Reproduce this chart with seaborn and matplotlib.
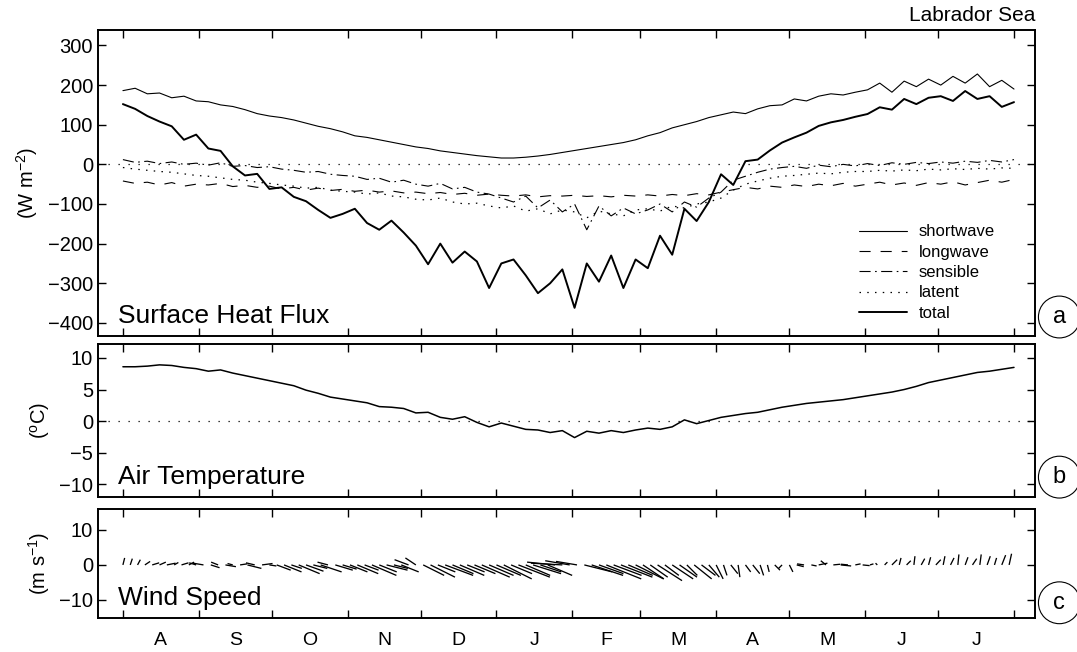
import numpy as np
import pandas as pd
import matplotlib
matplotlib.use("Agg")
import matplotlib.pyplot as plt
import seaborn as sns

# Style
sns.set_style("ticks", rc={"text.color": "k", "axes.labelcolor": "k",
                           "xtick.color": "k", "ytick.color": "k",
                           "axes.edgecolor": "k"})
plt.rcParams["font.family"] = ["Liberation Sans", "DejaVu Sans"]
plt.rcParams["mathtext.default"] = "regular"

# Data (days since 1 August, read every 5 days)
flux_days = np.arange(0, 366, 5)

shortwave = [186, 192, 178, 180, 168, 172, 160,
             158, 150, 146, 138, 128, 122,
             118, 112, 104, 96, 90, 82,
             72, 68, 62, 56, 50, 44,
             40, 34, 30, 26, 22, 19,
             16, 16, 18, 21, 25, 30,
             35, 40, 45, 50, 55, 62,
             72, 80, 92, 100, 108, 118,
             125, 132, 128, 140, 148, 150,
             165, 160, 172, 178, 175, 182,
             188, 205, 182, 210, 196, 215,
             200, 222, 205, 228, 196, 212, 190]

longwave = [-42, -48, -45, -52, -46, -55, -50,
            -52, -48, -56, -53, -58, -55,
            -62, -58, -65, -60, -66, -63,
            -68, -65, -70, -67, -72, -70,
            -74, -71, -76, -73, -78, -75,
            -78, -80, -77, -82, -79, -80,
            -78, -81, -79, -82, -78, -80,
            -77, -80, -76, -79, -74, -77,
            -70, -64, -58, -62, -55, -58,
            -52, -56, -50, -54, -48, -55,
            -50, -45, -52, -47, -53, -46,
            -50, -44, -52, -46, -40, -45, -38]

sensible = [12, 5, 8, 2, 6, 0, 3,
            -2, 4, -5, -3, -8, -6,
            -12, -15, -20, -18, -25, -28,
            -30, -38, -35, -45, -40, -50,
            -55, -48, -62, -58, -70, -75,
            -85, -95, -80, -110, -90, -120,
            -100, -165, -105, -130, -110, -125,
            -115, -100, -120, -95, -108, -85,
            -70, -40, -30, -20, -12, -8,
            -5, -10, -2, -6, 0, -4,
            2, -3, 4, 0, 5, 2,
            6, 3, 8, 5, 10, 6, 12]

latent = [-8, -12, -15, -18, -20, -24, -28,
          -30, -34, -38, -40, -45, -48,
          -52, -55, -60, -58, -65, -68,
          -70, -75, -72, -80, -82, -88,
          -90, -85, -95, -100, -98, -105,
          -110, -105, -118, -112, -125, -115,
          -120, -135, -118, -125, -130, -115,
          -112, -118, -105, -110, -100, -95,
          -85, -65, -50, -42, -35, -30,
          -28, -25, -22, -24, -20, -18,
          -18, -15, -17, -14, -16, -12,
          -14, -11, -13, -10, -12, -9, -10]

total = [152, 140, 122, 108, 96, 62, 75,
         40, 34, -5, -28, -24, -62,
         -58, -82, -93, -115, -135, -125,
         -112, -148, -165, -142, -172, -205,
         -252, -200, -248, -220, -245, -312,
         -250, -240, -280, -325, -300, -265,
         -362, -250, -296, -230, -312, -240,
         -262, -180, -228, -112, -143, -95,
         -25, -52, 8, 12, 35, 55,
         68, 80, 97, 106, 112, 120,
         127, 144, 138, 165, 152, 168,
         172, 160, 185, 165, 172, 145, 157]

air_temp = [8.6, 8.6, 8.7, 8.9, 8.8, 8.5, 8.3,
            7.9, 8.1, 7.6, 7.2, 6.8, 6.4,
            6.0, 5.6, 4.9, 4.4, 3.8, 3.5,
            3.2, 2.9, 2.3, 2.2, 2.0, 1.3,
            1.4, 0.6, 0.3, 0.7, -0.2, -0.9,
            -0.3, -0.8, -1.3, -1.4, -1.8, -1.5,
            -2.6, -1.6, -1.9, -1.5, -1.8, -1.4,
            -1.1, -1.3, -0.9, 0.2, -0.4, 0.1,
            0.6, 0.9, 1.2, 1.4, 1.8, 2.2,
            2.5, 2.8, 3.0, 3.2, 3.4, 3.7,
            4.0, 4.3, 4.6, 5.0, 5.5, 6.1,
            6.5, 6.9, 7.3, 7.7, 7.9, 8.2, 8.5]

# Wind components (m/s), every 3 days
wind_days = np.arange(0, 364, 3)
wind_u = [0.5, 0.6, 0.8, 1.5, 2.0, 1.8, 2.5, 1.2, 2.0, 1.5, -2.0,
          -3.0, 2.5, -2.0, 3.0, -1.5, 2.0, 4.0, -2.5, 3.0, 2.0,
          4, 5, 3, 6, 5, 4, 6, -3, 5, 4,
          5, 6, 4, 7, 5, 6, 4, 5, -4, -3,
          6, 7, 5, 8, 6, 7, 5, 6, 8, 7,
          7, 8, 6, 9, 7, 8, 6, 7, -8, -9, -7,
          -6, 8, 9, 7, 10, 8, 9, 7, 8,
          6, 5, 7, 4, 6, 5, 3, 5, 4, 3, 2,
          1, 2, 0.5, 1.5, 2, 1, 0.5, 1.5, -1, 1,
          2, -2, 1.5, 2.5, -1.5, 2, 3, -2, 1.5, 2,
          1, -0.5, 0.8, 1.5, 0.5, 1.2, 0.3, 1.0, 0.6, 1.4,
          0.5, 1.0, 0.3, 0.8, 1.2, 0.4, 0.9, 0.6, 1.1, 0.7]
wind_v = [2.0, 1.8, 1.5, 1.0, 0.6, 0.8, 0.5, 0.7, 0.6, 0.8, 0.6,
          0.5, -0.8, 0.8, -0.5, 0.4, 0.3, -1.0, 0.6, 0.4, -0.3,
          -1.5, -2, -1, -2.5, -1.8, -1, -2, 0.8, -1.5, -1.2,
          -2, -2.5, -1.5, -3, -2, -1.5, -1, -2, 1.5, 2,
          -3, -3.5, -2, -3, -2.5, -3, -2, -2.5, -3.5, -3,
          -3, -4, -2.5, -3.5, -3, -2.5, -2, -3, 0.8, 0.5, 1.2,
          1.0, -2, -3, -2.5, -4, -3, -3.5, -3, -4,
          -4, -3.5, -4.5, -3, -4, -3.5, -3, -4, -3, -3.5, -4,
          -3, -2.5, -3.5, -2, -2.5, -3, -2, -1.5, -1, -2,
          -0.5, 0.3, -0.3, 0.5, 1.2, 0.2, -0.3, 0.2, 0.3, -0.2,
          0.3, 0.5, 0.8, 1.5, 2.0, 1.2, 2.5, 1.8, 2.2, 1.5,
          2.5, 2.0, 3.0, 2.2, 1.8, 3.0, 2.5, 2.0, 2.8, 3.2]

month_starts = [0, 31, 61, 92, 122, 153, 184, 212, 243, 273, 304, 334, 365]
month_labels = ["A", "S", "O", "N", "D", "J", "F", "M", "A", "M", "J", "J"]

flux = pd.DataFrame({"day": flux_days, "shortwave": shortwave, "longwave": longwave,
                     "sensible": sensible, "latent": latent, "total": total})

# Figure and axes
fig = plt.figure(figsize=(10.77, 6.52), dpi=100)
ax1 = fig.add_axes([0.091, 0.4847, 0.870, 0.4693])
ax2 = fig.add_axes([0.091, 0.2377, 0.870, 0.2347])
ax3 = fig.add_axes([0.091, 0.0521, 0.870, 0.1672])

# Panel a: surface heat flux
styles = {"shortwave": ("-", 0.8), "longwave": ((0, (10, 9)), 0.8),
          "sensible": ((0, (10, 4, 1.5, 4)), 0.8), "latent": ((0, (1.2, 5)), 0.9),
          "total": ("-", 1.4)}
for name, (ls, lw) in styles.items():
    sns.lineplot(data=flux, x="day", y=name, ax=ax1, color="k", linestyle=ls,
                 linewidth=lw, label=name)
ax1.axhline(0, color="k", linestyle=(0, (1, 7)), linewidth=0.9)
ax1.set_ylim(-433, 339)
ax1.set_yticks(range(-400, 301, 100))
ax1.set_ylabel("(W m$^{-2}$)")
ax1.legend(loc="lower right", bbox_to_anchor=(0.957, 0.05), frameon=False,
           fontsize=12, handlelength=2.9, labelspacing=0.32, handletextpad=0.7,
           borderaxespad=0, borderpad=0)
ax1.text(0.021, 0.043, "Surface Heat Flux", transform=ax1.transAxes, fontsize=19)
ax1.text(1.0, 1.016, "Labrador Sea", transform=ax1.transAxes, fontsize=15,
         ha="right", va="bottom")

# Panel b: air temperature
sns.lineplot(x=flux_days, y=air_temp, ax=ax2, color="k", linewidth=1.1)
ax2.axhline(0, color="k", linestyle=(0, (1, 7)), linewidth=0.9)
ax2.set_ylim(-12, 12.2)
ax2.set_yticks([-10, -5, 0, 5, 10])
ax2.set_ylabel("($^{o}$C)")
ax2.text(0.021, 0.087, "Air Temperature", transform=ax2.transAxes, fontsize=19)

# Panel c: wind sticks
ax3.quiver(wind_days, np.zeros(len(wind_days)), wind_u, wind_v, angles="uv",
           scale_units="y", scale=1, headwidth=0, headlength=0,
           headaxislength=0, width=0.0014, pivot="tail", color="k")
ax3.set_ylim(-15.2, 16)
ax3.set_yticks([-10, 0, 10])
ax3.set_ylabel("(m s$^{-1}$)")
ax3.text(0.021, 0.12, "Wind Speed", transform=ax3.transAxes, fontsize=19)

# Shared axis styling
mid_months = [(a + b) / 2 for a, b in zip(month_starts[:-1], month_starts[1:])]
panels = [(ax1, "a", 0.062, -0.062), (ax2, "b", 0.13, -0.049), (ax3, "c", 0.14, -0.049)]
for ax, letter, ly, lx in panels:
    ax.set_xlim(-10.2, 373.6)
    ax.set_xlabel("")
    ax.set_xticks(month_starts)
    ax.set_xticks(mid_months, minor=True)
    ax.tick_params(which="major", direction="in", top=True, right=True,
                   length=6, width=1.0, labelsize=14.5, labelbottom=False)
    ax.tick_params(which="minor", length=0, labelbottom=False)
    for spine in ax.spines.values():
        spine.set_linewidth(1.4)
        spine.set_visible(True)
    ax.yaxis.label.set_size(14.5)
    ax.yaxis.set_label_coords(lx, 0.5)
    ax.text(1.026, ly, letter, transform=ax.transAxes, fontsize=17,
            ha="center", va="center", clip_on=False,
            bbox=dict(boxstyle="circle,pad=0.42", fc="white", ec="k", lw=0.8))

ax3.set_xticklabels(month_labels, minor=True)
ax3.tick_params(which="minor", labelbottom=True, labelsize=14, pad=10)

fig.savefig("out.png", dpi=100)
